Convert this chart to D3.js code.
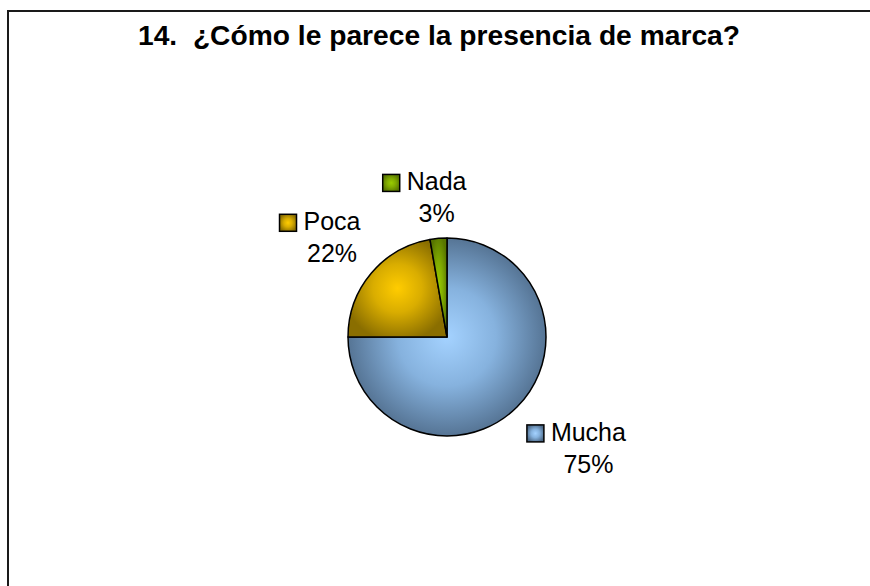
<!DOCTYPE html>
<html>
<head>
<meta charset="utf-8">
<script src="https://cdn.jsdelivr.net/npm/d3@7"></script>
<style>
  html, body { margin: 0; padding: 0; background: #fff; }
  svg { display: block; }
  text { font-family: "Liberation Sans", Arial, sans-serif; white-space: pre; }
</style>
</head>
<body>
<svg id="chart" width="870" height="586"></svg>
<script>
// ---- data ----
const title = "14.  ¿Cómo le parece la presencia de marca?";
const categories = ["Mucha", "Poca", "Nada"];
const values = [75, 22.25, 2.75];
const colorsLight = ["#a4d2ff", "#ffcc00", "#99cc00"];
const colorsMid = ["#86b2de", "#d9ad00", "#82ad00"];
const colorsDark = ["#4c6886", "#8a6e00", "#587600"];

// ---- layout ----
const W = 870, H = 586;
const cx = 447, cy = 337, R = 99;
const fontSize = 25, lineGap = 32, keySize = 17, keyGap = 7;

const svg = d3.select("#chart");
const defs = svg.append("defs");

categories.forEach((c, i) => {
  const g = defs.append("radialGradient")
    .attr("id", "grad" + i)
    .attr("cx", "50%").attr("cy", "50%").attr("r", "55%");
  g.append("stop").attr("offset", "0%").attr("stop-color", colorsLight[i]);
  g.append("stop").attr("offset", "45%").attr("stop-color", colorsMid[i]);
  g.append("stop").attr("offset", "100%").attr("stop-color", colorsDark[i]);
});

// border
svg.append("rect")
  .attr("x", 8).attr("y", 11)
  .attr("width", W + 20).attr("height", H + 20)
  .attr("fill", "#fff")
  .attr("stroke", "#1a1a1a").attr("stroke-width", 2);

// title
svg.append("text")
  .attr("x", 439).attr("y", 45)
  .attr("text-anchor", "middle")
  .attr("font-size", 28.5)
  .attr("font-weight", "bold")
  .attr("fill", "#000")
  .attr("xml:space", "preserve")
  .attr("textLength", 602)
  .attr("lengthAdjust", "spacingAndGlyphs")
  .text(title);

const total = d3.sum(values);
const pie = d3.pie().sort(null).value(d => d)
  .startAngle(0).endAngle(2 * Math.PI);
const arcs = pie(values);
const arc = d3.arc().innerRadius(0).outerRadius(R);

const gPie = svg.append("g").attr("transform", `translate(${cx},${cy})`);
gPie.selectAll("path")
  .data(arcs)
  .join("path")
  .attr("d", arc)
  .attr("fill", (d, i) => `url(#grad${i})`)
  .attr("stroke", "#000")
  .attr("stroke-width", 1.5)
  .attr("stroke-linejoin", "round");

// labels (outside end)
const labelArc = d3.arc().innerRadius(R + 14).outerRadius(R + 14);
const fmt = v => Math.round(v / total * 100) + "%";

arcs.forEach((d, i) => {
  const g = svg.append("g");
  const name = g.append("text")
    .attr("font-size", fontSize).attr("fill", "#000")
    .text(categories[i]);
  const pct = g.append("text")
    .attr("font-size", fontSize).attr("fill", "#000")
    .attr("text-anchor", "middle")
    .text(fmt(values[i]));
  const nameW = name.node().getComputedTextLength();
  const pctW = pct.node().getComputedTextLength();
  const line1W = keySize + keyGap + nameW;
  const blockW = Math.max(line1W, pctW);
  const blockH = fontSize * 0.8 + lineGap + 6;

  const mid = (d.startAngle + d.endAngle) / 2;
  const [ax, ay] = labelArc.centroid(d);
  const s = Math.max(-1, Math.min(1, Math.sin(mid) * 3.5));
  const c = Math.max(-1, Math.min(1, Math.cos(mid) * 2));
  const bx = cx + ax + s * blockW / 2;   // block center x
  const by = cy + ay - c * blockH / 2 + 4;   // block center y
  const left = bx - blockW / 2;
  const top = by - blockH / 2;
  const base1 = top + fontSize * 0.8;

  g.insert("rect", "text")
    .attr("x", left).attr("y", base1 - keySize + 1)
    .attr("width", keySize).attr("height", keySize)
    .attr("fill", `url(#grad${i})`)
    .attr("stroke", "#000").attr("stroke-width", 1.5);
  name.attr("x", left + keySize + keyGap).attr("y", base1);
  pct.attr("x", left + keySize + keyGap + nameW / 2).attr("y", base1 + lineGap);
});
</script>
</body>
</html>
